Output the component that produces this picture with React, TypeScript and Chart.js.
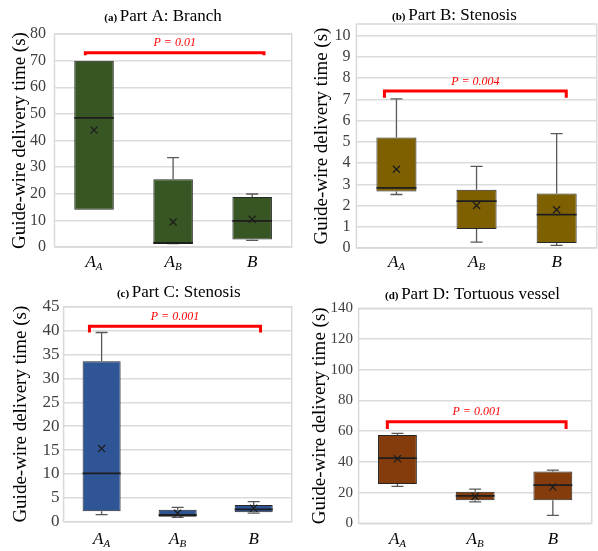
import React, { useEffect, useRef } from "react";
import { Chart, registerables } from "chart.js";

Chart.register(...registerables);

// ---------- data ----------
const categories = ["A_A", "A_B", "B"];
const mainLetters = ["A", "A", "B"];
const subLetters = ["A", "B", ""];

const panelTitlesPrefix = ["(a)", "(b)", "(c)", "(d)"];
const panelTitles = ["Part A: Branch", "Part B: Stenosis", "Part C: Stenosis", "Part D: Tortuous vessel"];
const yAxisTitle = "Guide-wire delivery time (s)";

// Part A
const aMin = [14, 1.3, 2.5];
const aQ1 = [14, 1.4, 2.8];
const aMedian = [48.5, 1.5, 9.8];
const aQ3 = [70, 25.4, 18.8];
const aMax = [70, 33.6, 19.9];
const aMean = [43.9, 9.4, 10.4];

// Part B
const bMin = [2.52, 0.28, 0.12];
const bQ1 = [2.66, 0.89, 0.23];
const bMedian = [2.83, 2.21, 1.57];
const bQ3 = [5.2, 2.74, 2.57];
const bMax = [7.02, 3.84, 5.39];
const bMean = [3.71, 2.0, 1.8];

// Part C
const cMin = [1.5, 0.9, 1.8];
const cQ1 = [2.2, 1.05, 2.0];
const cMedian = [10.1, 1.4, 2.6];
const cQ3 = [33.6, 2.5, 3.5];
const cMax = [39.6, 3.0, 4.2];
const cMean = [15.3, 1.75, 2.8];

// Part D
const dMin = [24.1, 14.0, 5.2];
const dQ1 = [25.6, 15.0, 15.0];
const dMedian = [42.5, 17.8, 24.9];
const dQ3 = [57.5, 20.5, 33.8];
const dMax = [58.6, 22.3, 34.6];
const dMean = [42.1, 17.5, 23.6];

const pLabels = ["P = 0.01", "P = 0.004", "P = 0.001", "P = 0.001"];
const bracketValues = [73, 7.4, 40.9, 66.1];
const bracketTickEnds = [72, 7.08, 39.6, 61.4];

const yMaxes = [80, 10.55, 45, 140];
const ySteps = [10, 1, 5, 20];

const boxColors = ["#375623", "#7f6000", "#2f5597", "#843c0c"];

// ---------- layout (positions/styles) ----------
const layouts = [
  { x: 0, y: 0, w: 298, h: 275, cw: 298, left: 54.5, top: 34, right: 296, bottom: 247, titleX: 163, titleBase: 20.7, tickSize: 16, tickPad: 8.5, yTitlePad: 8.6, labelOff: 20, bx: [-0.11, 2.15] },
  { x: 298, y: 0, w: 300, h: 275, cw: 305, left: 58.4, top: 24, right: 302, bottom: 248, titleX: 156.5, titleBase: 20, tickSize: 16, tickPad: 6, yTitlePad: 12.6, labelOff: 19, bx: [-0.15, 2.12] },
  { x: 0, y: 275, w: 298, h: 276, cw: 298, left: 63.6, top: 31.7, right: 292, bottom: 246.7, titleX: 178.7, titleBase: 22.3, tickSize: 17, tickPad: 4, yTitlePad: 9.6, labelOff: 22, bx: [-0.16, 2.09] },
  { x: 298, y: 275, w: 300, h: 276, cw: 300, left: 60.6, top: 33.3, right: 297.1, bottom: 248.3, titleX: 174.5, titleBase: 24, tickSize: 15, tickPad: 5.6, yTitlePad: 11.1, labelOff: 21, bx: [-0.13, 2.17] },
];

const stats = [
  { min: aMin, q1: aQ1, med: aMedian, q3: aQ3, max: aMax, mean: aMean },
  { min: bMin, q1: bQ1, med: bMedian, q3: bQ3, max: bMax, mean: bMean },
  { min: cMin, q1: cQ1, med: cMedian, q3: cQ3, max: cMax, mean: cMean },
  { min: dMin, q1: dQ1, med: dMedian, q3: dQ3, max: dMax, mean: dMean },
];

const SERIF = "'Liberation Serif', 'Times New Roman', serif";

function Panel({ idx }: { idx: number }) {
  const ref = useRef<HTMLCanvasElement>(null);
  const L = layouts[idx];
  const S = stats[idx];

  useEffect(() => {
    const canvas = ref.current!;
    const extras = {
      id: "boxExtras" + idx,
      beforeDatasetsDraw(chart: any) {
        const { ctx, chartArea } = chart;
        ctx.save();
        ctx.strokeStyle = "#d9d9d9";
        ctx.lineWidth = 1.5;
        ctx.strokeRect(chartArea.left, chartArea.top, chartArea.right - chartArea.left, chartArea.bottom - chartArea.top);
        ctx.restore();
      },
      afterDatasetsDraw(chart: any) {
        const { ctx } = chart;
        const xs = chart.scales.x;
        const ys = chart.scales.y;
        ctx.save();
        const meta = chart.getDatasetMeta(1);
        categories.forEach((_, i) => {
          const cx = xs.getPixelForValue(i);
          const bar = meta.data[i];
          const half = bar ? bar.width / 2 : 20;
          // whiskers
          ctx.strokeStyle = "#595959";
          ctx.lineWidth = 1.3;
          const yMax = ys.getPixelForValue(S.max[i]);
          const yQ3 = ys.getPixelForValue(S.q3[i]);
          const yMin = ys.getPixelForValue(S.min[i]);
          const yQ1 = ys.getPixelForValue(S.q1[i]);
          if (S.max[i] > S.q3[i]) {
            ctx.beginPath();
            ctx.moveTo(cx, yQ3);
            ctx.lineTo(cx, yMax);
            ctx.moveTo(cx - 6, yMax);
            ctx.lineTo(cx + 6, yMax);
            ctx.stroke();
          }
          if (S.min[i] < S.q1[i]) {
            ctx.beginPath();
            ctx.moveTo(cx, yQ1);
            ctx.lineTo(cx, yMin);
            ctx.moveTo(cx - 6, yMin);
            ctx.lineTo(cx + 6, yMin);
            ctx.stroke();
          }
          // median
          ctx.strokeStyle = "#1e1e1e";
          ctx.lineWidth = 1.8;
          const yMed = ys.getPixelForValue(S.med[i]);
          ctx.beginPath();
          ctx.moveTo(cx - half, yMed);
          ctx.lineTo(cx + half, yMed);
          ctx.stroke();
        });
        // bracket
        const bx0 = xs.getPixelForValue(L.bx[0]);
        const bx1 = xs.getPixelForValue(L.bx[1]);
        const by = ys.getPixelForValue(bracketValues[idx]);
        const bt = ys.getPixelForValue(bracketTickEnds[idx]);
        ctx.strokeStyle = "#ff0000";
        ctx.lineWidth = 3;
        ctx.lineCap = "butt";
        ctx.beginPath();
        ctx.moveTo(bx0, Math.max(bt, by + 2.5));
        ctx.lineTo(bx0, by);
        ctx.lineTo(bx1, by);
        ctx.lineTo(bx1, Math.max(bt, by + 2.5));
        ctx.stroke();
        ctx.fillStyle = "#ff0000";
        ctx.font = `italic 12px ${SERIF}`;
        ctx.textAlign = "center";
        ctx.textBaseline = "middle";
        ctx.fillText(pLabels[idx], (bx0 + bx1) / 2, by - 9.5);
        ctx.restore();
      },
      afterDraw(chart: any) {
        const { ctx } = chart;
        const xs = chart.scales.x;
        const ys = chart.scales.y;
        ctx.save();
        // title
        ctx.fillStyle = "#000";
        ctx.textBaseline = "alphabetic";
        ctx.textAlign = "left";
        const pre = panelTitlesPrefix[idx] + " ";
        ctx.font = `bold 11px ${SERIF}`;
        const wPre = ctx.measureText(pre).width;
        ctx.font = `17px ${SERIF}`;
        const wMain = ctx.measureText(panelTitles[idx]).width;
        const x0 = L.titleX - (wPre + wMain) / 2;
        ctx.font = `bold 11px ${SERIF}`;
        ctx.fillText(pre, x0, L.titleBase);
        ctx.font = `17px ${SERIF}`;
        ctx.fillText(panelTitles[idx], x0 + wPre, L.titleBase);
        // x labels
        const base = ys.bottom + L.labelOff;
        categories.forEach((_, i) => {
          const cx = xs.getPixelForValue(i);
          ctx.font = `italic 17px ${SERIF}`;
          const wm = ctx.measureText(mainLetters[i]).width;
          ctx.font = `italic 11px ${SERIF}`;
          const ws = subLetters[i] ? ctx.measureText(subLetters[i]).width : 0;
          const sx = cx - (wm + ws) / 2;
          ctx.fillStyle = "#000";
          ctx.font = `italic 17px ${SERIF}`;
          ctx.fillText(mainLetters[i], sx, base);
          if (subLetters[i]) {
            ctx.font = `italic 11px ${SERIF}`;
            ctx.fillText(subLetters[i], sx + wm, base + 3);
          }
        });
        ctx.restore();
      },
    };

    const chart = new Chart(canvas, {
      type: "bar",
      data: {
        labels: categories,
        datasets: [
          {
            type: "line",
            label: "mean",
            data: S.mean,
            showLine: false,
            pointStyle: "crossRot",
            pointRadius: 5,
            pointBorderWidth: 1.3,
            pointBorderColor: "#1e1e1e",
            pointBackgroundColor: "rgba(0,0,0,0)",
            borderColor: "#1e1e1e",
          } as any,
          {
            type: "bar",
            label: "box",
            data: S.q1.map((q, i) => [q, S.q3[i]]),
            backgroundColor: boxColors[idx],
            borderColor: "#262626",
            borderWidth: 1,
            borderSkipped: false,
            barPercentage: 0.5,
            categoryPercentage: 1,
          } as any,
        ],
      },
      options: {
        responsive: false,
        animation: false,
        events: [],
        layout: {
          padding: { left: 0, top: L.top, right: L.cw - L.right, bottom: L.h - L.bottom },
        },
        plugins: {
          legend: { display: false },
          tooltip: { enabled: false },
          title: { display: false },
        },
        scales: {
          x: {
            display: false,
            offset: true,
          },
          y: {
            min: 0,
            max: yMaxes[idx],
            afterFit: (scale: any) => {
              scale.width = L.left;
            },
            ticks: {
              stepSize: ySteps[idx],
              includeBounds: false,
              padding: L.tickPad,
              color: "#404040",
              font: { family: SERIF, size: L.tickSize },
            },
            grid: { color: "#dcdcdc", lineWidth: 1.5, drawTicks: false },
            border: { display: false },
            title: {
              display: true,
              text: yAxisTitle,
              color: "#000",
              font: { family: SERIF, size: 19, lineHeight: 1.2 },
              padding: { top: L.yTitlePad, bottom: 0 },
            },
          },
        },
      } as any,
      plugins: [extras],
    });
    return () => chart.destroy();
  }, [idx]);

  return (
    <div style={{ position: "absolute", left: L.x, top: L.y, width: L.w, height: L.h, overflow: "hidden" }}>
      <canvas ref={ref} width={L.cw} height={L.h} style={{ display: "block" }} />
    </div>
  );
}

export default function App() {
  return (
    <div style={{ position: "fixed", left: 0, top: 0, width: 598, height: 551, overflow: "hidden", background: "#fff" }}>
      {[0, 1, 2, 3].map((i) => (
        <Panel key={i} idx={i} />
      ))}
    </div>
  );
}
